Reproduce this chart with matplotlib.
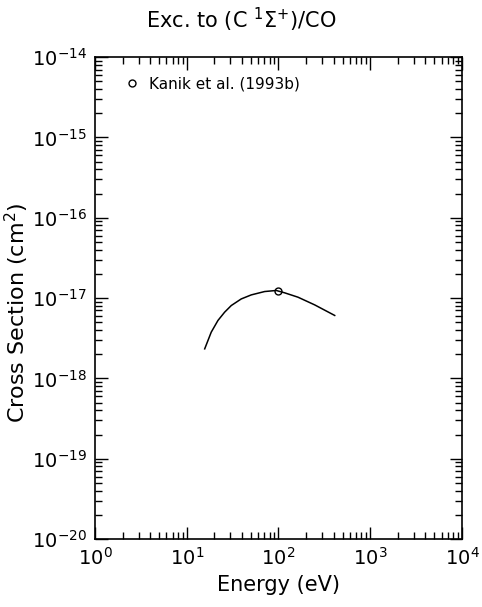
import matplotlib
matplotlib.use("Agg")
import matplotlib.pyplot as plt
from matplotlib.ticker import LogLocator, NullFormatter, FixedLocator

# Curve (fit) values
energy_fit = [15.7, 18.5, 21.9, 25.9, 30.6, 39.3, 50.5, 70.7, 94.6, 116.8, 163.0, 248.0, 410.0]
xs_fit = [2.33e-18, 3.76e-18, 5.26e-18, 6.67e-18, 8.07e-18, 9.75e-18, 1.094e-17, 1.205e-17, 1.242e-17, 1.161e-17, 1.025e-17, 8.22e-18, 6.07e-18]

# Measured point
energy_pts = [99.0]
xs_pts = [1.24e-17]

x_major = [1, 10, 100, 1000, 10000]
y_major = [1e-20, 1e-19, 1e-18, 1e-17, 1e-16, 1e-15, 1e-14]

title = r"Exc. to (C $^1\Sigma^{+}$)/CO"
xlabel = "Energy (eV)"
ylabel = r"Cross Section (cm$^2$)"
legend_label = "Kanik et al. (1993b)"

fig = plt.figure(figsize=(4.82, 6.07), dpi=100)
ax = fig.add_axes([0.197, 0.112, 0.7615, 0.794])

ax.plot(energy_fit, xs_fit, color="black", lw=1.1)
ax.plot(energy_pts, xs_pts, ls="none", marker="o", mfc="none", mec="black", ms=5, mew=1.0, label=legend_label)

ax.set_xscale("log")
ax.set_yscale("log")
ax.set_xlim(1, 1e4)
ax.set_ylim(1e-20, 1e-14)

ax.xaxis.set_major_locator(FixedLocator(x_major))
ax.yaxis.set_major_locator(FixedLocator(y_major))
ax.xaxis.set_minor_locator(LogLocator(base=10, subs=range(2, 10), numticks=10))
ax.yaxis.set_minor_locator(LogLocator(base=10, subs=range(2, 10), numticks=10))
ax.xaxis.set_minor_formatter(NullFormatter())
ax.yaxis.set_minor_formatter(NullFormatter())

ax.tick_params(which="both", direction="in", top=True, right=True, width=1.0, labelsize=14)
ax.tick_params(which="major", length=9, pad=6)
ax.tick_params(which="minor", length=5)
for s in ax.spines.values():
    s.set_linewidth(1.2)

fig.suptitle(title, fontsize=15, x=0.5, y=0.967, va="center")
ax.set_xlabel(xlabel, fontsize=15, labelpad=4)
ax.set_ylabel(ylabel, fontsize=16)
ax.yaxis.set_label_coords(-0.175, 0.47)

ax.legend(loc="upper left", frameon=False, fontsize=11, handletextpad=0.5,
          bbox_to_anchor=(0.06, 0.972), borderaxespad=0.0, handlelength=1.2, numpoints=1)

fig.savefig("out.png", dpi=100)
